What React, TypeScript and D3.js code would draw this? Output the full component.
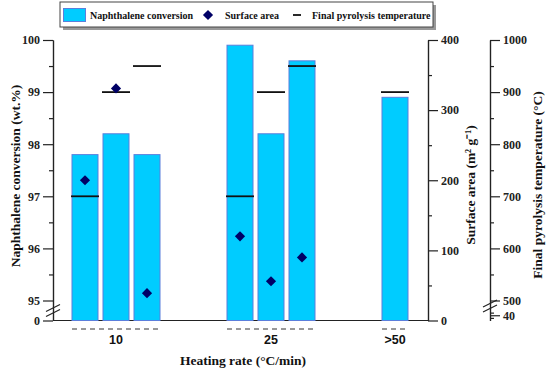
import { useRef, useEffect } from 'react';
import * as d3 from 'd3';

const W = 550;
const H = 370;

// Heating-rate groups and the bars inside each one.
const GROUPS = ['10', '25', '>50'];
const NAPHTHALENE = [
  [97.8, 98.2, 97.8],
  [99.9, 98.2, 99.6],
  [98.9],
];
const SURFACE_AREA: (number | null)[][] = [
  [200, 331, 39],
  [120, 56, 90],
  [null],
];
const FINAL_TEMP = [
  [700, 900, 950],
  [700, 900, 950],
  [900],
];

const LEFT_TICKS = [0, 95, 96, 97, 98, 99, 100];
const LEFT_MINOR = [95.5, 96.5, 97.5, 98.5, 99.5];
const SA_TICKS = [0, 100, 200, 300, 400];
const SA_MINOR = [50, 150, 250, 350];
const TEMP_TICKS = [40, 500, 600, 700, 800, 900, 1000];
const TEMP_MINOR = [35, 45, 550, 650, 750, 850, 950];

const BAR_FILL = '#00ccff';
const BAR_STROKE = '#5b7fdc';
const DIAMOND = '#000066';
const SERIF = '"Liberation Serif", "Times New Roman", serif';
const SANS = '"Liberation Sans", Arial, sans-serif';

const AX_LEFT = 53;
const AX_SA = 428;
const AX_TEMP = 490;
const Y_TOP = 40;
const Y_BASE = 320.5;

export default function App() {
  const svgRef = useRef<SVGSVGElement>(null);

  useEffect(() => {
    if (!svgRef.current) return;
    const svg = d3.select(svgRef.current);
    svg.selectAll('*').remove();

    // slot index: 5 slots per group, bars fill the first ones
    const slots = GROUPS.flatMap((_, gi) => NAPHTHALENE[gi].map((_, bi) => gi * 5 + bi));
    const x = d3.scaleLinear().domain([-0.5, 10.5]).range([69.5, 410.5]);
    const barW = 26;

    // broken axes as polylinear scales
    const yLeft = d3.scaleLinear().domain([0, 95, 100]).range([Y_BASE, 300.5, Y_TOP]);
    const ySA = d3.scaleLinear().domain([0, 400]).range([Y_BASE, Y_TOP]);
    const yTemp = d3.scaleLinear().domain([30, 50, 500, 1000]).range([Y_BASE, 310, 300.5, Y_TOP]);

    const styleAxis = (sel: d3.Selection<SVGGElement, unknown, null, undefined>) => {
      sel.select('.domain').attr('stroke', '#222').attr('stroke-width', 1.2);
      sel.selectAll('.tick line').attr('stroke', '#222').attr('stroke-width', 1.2);
      sel.selectAll('.tick text')
        .attr('fill', '#222')
        .attr('font-size', '12px')
        .attr('font-weight', 'bold')
        .attr('font-family', SERIF);
    };

    // ── baseline ─────────────────────────────────────────────
    svg.append('line')
      .attr('x1', AX_LEFT).attr('x2', AX_SA)
      .attr('y1', Y_BASE).attr('y2', Y_BASE)
      .attr('stroke', '#222').attr('stroke-width', 1.2);

    // ── bars ─────────────────────────────────────────────────
    const bars = GROUPS.flatMap((_, gi) => NAPHTHALENE[gi].map((v, bi) => ({ slot: gi * 5 + bi, v })));
    svg.append('g')
      .selectAll('rect')
      .data(bars)
      .join('rect')
      .attr('x', (d) => x(d.slot) - barW / 2)
      .attr('width', barW)
      .attr('y', (d) => yLeft(d.v))
      .attr('height', (d) => Y_BASE - yLeft(d.v))
      .attr('fill', BAR_FILL)
      .attr('stroke', BAR_STROKE)
      .attr('stroke-width', 1);

    // ── final temperature dashes ─────────────────────────────
    const temps = GROUPS.flatMap((_, gi) => FINAL_TEMP[gi].map((v, bi) => ({ slot: gi * 5 + bi, v })));
    svg.append('g')
      .selectAll('line')
      .data(temps)
      .join('line')
      .attr('x1', (d) => x(d.slot) - 14)
      .attr('x2', (d) => x(d.slot) + 14)
      .attr('y1', (d) => yTemp(d.v))
      .attr('y2', (d) => yTemp(d.v))
      .attr('stroke', '#111')
      .attr('stroke-width', 1.8);

    // ── surface area diamonds ────────────────────────────────
    const sa = GROUPS.flatMap((_, gi) =>
      SURFACE_AREA[gi].map((v, bi) => ({ slot: gi * 5 + bi, v })),
    ).filter((d) => d.v != null) as { slot: number; v: number }[];
    const diamond = d3.symbol().type(d3.symbolSquare).size(52);
    svg.append('g')
      .selectAll('path')
      .data(sa)
      .join('path')
      .attr('d', diamond)
      .attr('transform', (d) => `translate(${x(d.slot)},${ySA(d.v)}) rotate(45)`)
      .attr('fill', DIAMOND);

    // ── left axis ────────────────────────────────────────────
    svg.append('g')
      .attr('transform', `translate(${AX_LEFT},0)`)
      .call(d3.axisLeft(yLeft).tickValues(LEFT_TICKS).tickSize(10).tickSizeOuter(0).tickPadding(3).tickFormat(d3.format('d')))
      .call(styleAxis);
    svg.append('g')
      .attr('transform', `translate(${AX_LEFT},0)`)
      .call(d3.axisLeft(yLeft).tickValues(LEFT_MINOR).tickSize(4).tickSizeOuter(0).tickFormat(() => ''))
      .call(styleAxis);

    // ── surface area axis ────────────────────────────────────
    svg.append('g')
      .attr('transform', `translate(${AX_SA},0)`)
      .call(d3.axisRight(ySA).tickValues(SA_TICKS).tickSize(10).tickSizeOuter(0).tickPadding(3).tickFormat(d3.format('d')))
      .call(styleAxis);
    svg.append('g')
      .attr('transform', `translate(${AX_SA},0)`)
      .call(d3.axisRight(ySA).tickValues(SA_MINOR).tickSize(4).tickSizeOuter(0).tickFormat(() => ''))
      .call(styleAxis);

    // ── temperature axis ─────────────────────────────────────
    svg.append('g')
      .attr('transform', `translate(${AX_TEMP},0)`)
      .call(d3.axisRight(yTemp).tickValues(TEMP_TICKS).tickSize(10).tickSizeOuter(0).tickPadding(3).tickFormat(d3.format('d')))
      .call(styleAxis);
    svg.append('g')
      .attr('transform', `translate(${AX_TEMP},0)`)
      .call(d3.axisRight(yTemp).tickValues(TEMP_MINOR).tickSize(4).tickSizeOuter(0).tickFormat(() => ''))
      .call(styleAxis);

    // ── axis break marks ─────────────────────────────────────
    [[AX_LEFT, yLeft(47.5)], [AX_TEMP, yTemp(50) - 4]].forEach(([ax, by]) => {
      [-2.5, 2.5].forEach((o) => {
        svg.append('line')
          .attr('x1', ax - 7).attr('x2', ax + 7)
          .attr('y1', by + o + 3.5).attr('y2', by + o - 3.5)
          .attr('stroke', '#222').attr('stroke-width', 1.1);
      });
    });

    // ── category labels and dashed group markers ─────────────
    GROUPS.forEach((g, gi) => {
      const gs = slots.filter((s) => Math.floor(s / 5) === gi);
      const x0 = x(d3.min(gs)!) - barW / 2;
      const x1 = x(d3.max(gs)!) + barW / 2;
      svg.append('line')
        .attr('x1', x0).attr('x2', x1)
        .attr('y1', 329).attr('y2', 329)
        .attr('stroke', '#333').attr('stroke-width', 1)
        .attr('stroke-dasharray', '5,4');
      svg.append('text')
        .attr('x', (x0 + x1) / 2).attr('y', 344)
        .attr('text-anchor', 'middle')
        .attr('font-family', SANS).attr('font-weight', 'bold').attr('font-size', '12.5px')
        .attr('fill', '#111')
        .text(g);
    });

    // ── axis titles ──────────────────────────────────────────
    const title = (tx: number, ty: number, rot: number, txt: string) => {
      svg.append('text')
        .attr('transform', `translate(${tx},${ty}) rotate(${rot})`)
        .attr('text-anchor', 'middle')
        .attr('dominant-baseline', 'central')
        .attr('font-family', SERIF).attr('font-weight', 'bold').attr('font-size', '13.5px')
        .attr('fill', '#111')
        .text(txt);
    };
    title(243, 360, 0, 'Heating rate (°C/min)');
    title(15, 176, -90, 'Naphthalene conversion (wt.%)');
    title(470, 185, -90, 'Surface area (m² g⁻¹)');
    title(537, 185, -90, 'Final pyrolysis temperature (°C)');

    // ── legend ───────────────────────────────────────────────
    const lg = svg.append('g');
    lg.append('rect').attr('x', 63).attr('y', 5).attr('width', 373).attr('height', 25).attr('fill', '#999');
    lg.append('rect').attr('x', 60).attr('y', 2).attr('width', 373).attr('height', 25)
      .attr('fill', '#fff').attr('stroke', '#444').attr('stroke-width', 1);
    lg.append('rect').attr('x', 63.5).attr('y', 8.5).attr('width', 22).attr('height', 13)
      .attr('fill', BAR_FILL).attr('stroke', BAR_STROKE);
    lg.append('path').attr('d', diamond).attr('transform', 'translate(208,15) rotate(45)').attr('fill', DIAMOND);
    lg.append('line').attr('x1', 293).attr('x2', 301).attr('y1', 15).attr('y2', 15)
      .attr('stroke', '#111').attr('stroke-width', 1.8);
    [[90, 'Naphthalene conversion'], [225, 'Surface area'], [312, 'Final pyrolysis temperature']].forEach(([lx, txt]) => {
      lg.append('text').attr('x', lx as number).attr('y', 18.5)
        .attr('font-family', SERIF).attr('font-weight', 'bold').attr('font-size', '10px')
        .attr('fill', '#111').text(txt as string);
    });
  }, []);

  return (
    <svg
      ref={svgRef}
      width={W}
      height={H}
      style={{ position: 'absolute', left: 0, top: 0, display: 'block', background: '#fff' }}
    />
  );
}
